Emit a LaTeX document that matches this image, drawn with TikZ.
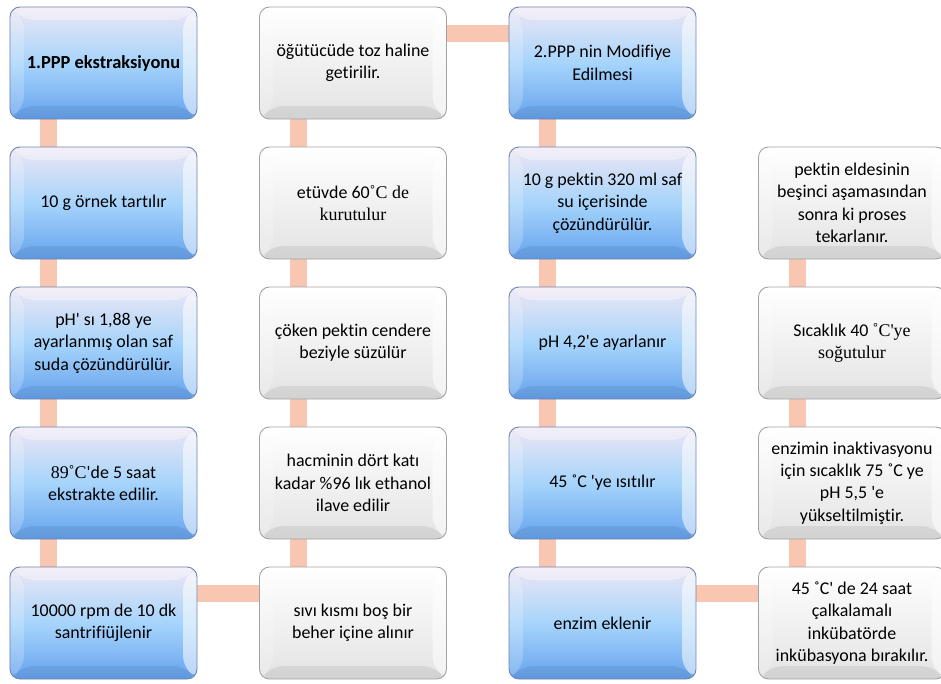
\documentclass[tikz,border=0pt]{standalone}
\usepackage{fontspec}
\setmainfont{Carlito}[Ligatures={NoCommon,NoRequired,NoContextual}]
\newfontfamily\timesf{Liberation Serif}
\usepackage{xcolor}
\usepackage{tikz}
\usetikzlibrary{positioning,backgrounds}
\definecolor{lavtop}{HTML}{EEE6F4}
\definecolor{skyblue}{HTML}{A6D4FB}
\definecolor{deepblue}{HTML}{66A3EE}
\definecolor{blueedge}{HTML}{6F86B0}
\definecolor{greyedge}{HTML}{A3A3A3}
\definecolor{greylow}{HTML}{E3E3E3}
\definecolor{peach}{HTML}{F8C6B1}
\newcommand\tq{\textquotesingle}
\tikzset{
    bevel/.style={path picture={
      \coordinate (nw) at (path picture bounding box.north west);
      \coordinate (ne) at (path picture bounding box.north east);
      \coordinate (sw) at (path picture bounding box.south west);
      \coordinate (se) at (path picture bounding box.south east);
      \coordinate (inw) at ([shift={(14,-13)}]nw);
      \coordinate (ine) at ([shift={(-14,-13)}]ne);
      \coordinate (isw) at ([shift={(14,13)}]sw);
      \coordinate (ise) at ([shift={(-14,13)}]se);
      \fill[white,opacity=0.35] (nw)--(ne)--(ine)--(inw)--cycle;
      \fill[white,opacity=0.55] (ne)--(se)--(ise)--(ine)--cycle;
      \fill[black,opacity=0.07] (se)--(sw)--(isw)--(ise)--cycle;
      \fill[white,opacity=0.2] (sw)--(nw)--(inw)--(isw)--cycle;
    }},
    stepbox/.style={rounded corners=10bp,line width=0.9bp,
      minimum width=187bp,minimum height=112bp,inner sep=2bp,outer sep=0pt,
      align=center,text=black,font=\fontsize{18}{22.5}\selectfont},
    bluestep/.style={stepbox,draw=blueedge,top color=lavtop,bottom color=deepblue,
      middle color=skyblue,bevel},
    greystep/.style={stepbox,draw=greyedge,top color=white,bottom color=greylow,bevel},
    link/.style={draw=peach,line width=17bp}
}

\begin{document}
\begin{tikzpicture}[x=1bp,y=1bp,node distance=28bp and 62.5bp]
  \clip (0,0) rectangle (941,-684);
  % first column: extraction
  \node[bluestep] (e1) at (103.5,-63) {\fontsize{18.5}{22.5}\selectfont\textbf{1.PPP ekstraksiyonu}};
  \node[bluestep,below=of e1] (e2) {10 g örnek tartılır};
  \node[bluestep,below=of e2] (e3) {pH\tq{} sı 1,88 ye\\ayarlanmış olan saf\\suda çözündürülür.};
  \node[bluestep,below=of e3] (e4) {{\timesf 89˚C}\tq de 5 saat\\ekstrakte edilir.};
  \node[bluestep,below=of e4] (e5) {10000 rpm de 10 dk\\santrifiüjlenir};
  % second column, bottom to top
  \node[greystep,right=of e5] (p5) {sıvı kısmı boş bir\\beher içine alınır};
  \node[greystep,above=of p5] (p4) {hacminin dört katı\\kadar \%96 lık ethanol\\ilave edilir};
  \node[greystep,above=of p4] (p3) {çöken pektin cendere\\beziyle süzülür};
  \node[greystep,above=of p3] (p2) {etüvde 60{\timesf ˚C de}\\{\timesf kurutulur}};
  \node[greystep,above=of p2] (p1) {öğütücüde toz haline\\getirilir.};
  % third column: modification
  \node[bluestep,right=of p1] (m1) {2.PPP nin Modifiye\\Edilmesi};
  \node[bluestep,below=of m1] (m2) {10 g pektin 320 ml saf\\su içerisinde\\çözündürülür.};
  \node[bluestep,below=of m2] (m3) {pH 4,2\tq e ayarlanır};
  \node[bluestep,below=of m3] (m4) {45 ˚C \tq ye ısıtılır};
  \node[bluestep,below=of m4] (m5) {enzim eklenir};
  % fourth column, bottom to top
  \node[greystep,right=of m5] (t5) {45 ˚C\tq{} de 24 saat\\çalkalamalı\\inkübatörde\\inkübasyona bırakılır.};
  \node[greystep,above=of t5] (t4) {enzimin inaktivasyonu\\için sıcaklık 75 ˚C ye\\pH 5,5 \tq e\\yükseltilmiştir.};
  \node[greystep,above=of t4] (t3) {Sıcaklık 40 {\timesf ˚C\tq ye}\\{\timesf soğutulur}};
  \node[greystep,above=of t3] (t2) {pektin eldesinin\\beşinci aşamasından\\sonra ki proses\\tekarlanır.};
  % connectors
  \begin{scope}[on background layer]
    \foreach \a/\b in {e1/e2,e2/e3,e3/e4,e4/e5,p1/p2,p2/p3,p3/p4,p4/p5,
                       m1/m2,m2/m3,m3/m4,m4/m5,t2/t3,t3/t4,t4/t5}
      \draw[link] ([xshift=39]\a.south west) -- ([xshift=39]\b.north west);
    \foreach \a/\b in {e5/p5,p1/m1,m5/t5}
      \draw[link] ([yshift=-27]\a.north east) -- ([yshift=-27]\b.north west);
  \end{scope}
\end{tikzpicture}
\end{document}
